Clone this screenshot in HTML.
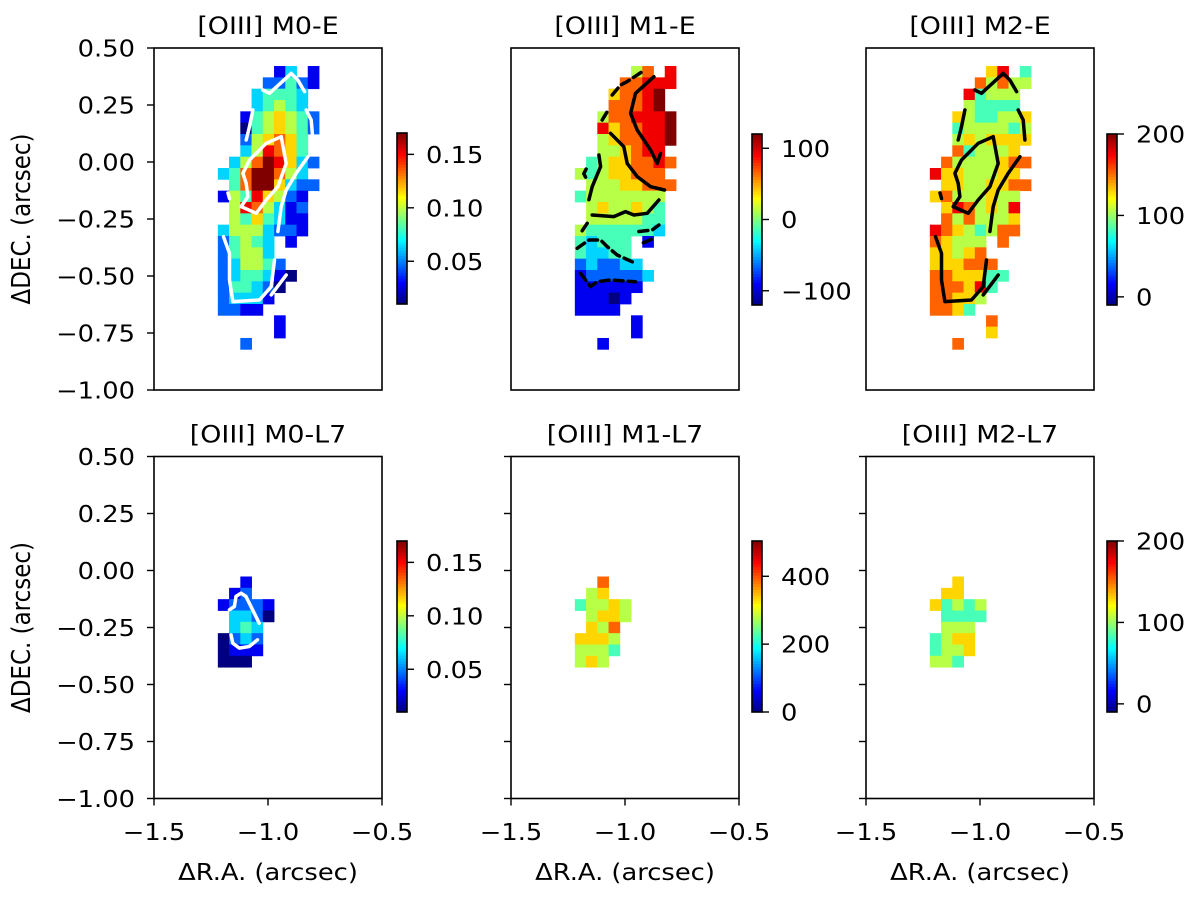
<!DOCTYPE html>
<html><head><meta charset="utf-8"><style>
html,body{margin:0;padding:0;background:#fff;}
svg text{font-family:"DejaVu Sans","Liberation Sans",sans-serif;fill:#000;}
</style></head><body>
<svg id="fig" width="1200" height="893" viewBox="0 0 1200 893" xmlns="http://www.w3.org/2000/svg"></svg>
<script>
// ---- data (levels 0-9 read from the colour map; '.' = no data) ----
const gridX0 = -1.220, gridDX = 0.0493, gridY0 = 0.421, gridDY = 0.0497;
const xTicks = [-1.5, -1.0, -0.5];
const xTickLabels = ["\u22121.5", "\u22121.0", "\u22120.5"];
const yTicks = [0.5, 0.25, 0.0, -0.25, -0.5, -0.75, -1.0];
const yTickLabels = ["0.50", "0.25", "0.00", "\u22120.25", "\u22120.50", "\u22120.75", "\u22121.00"];

const m0eLevels = [
".....13.1","....22421","...34443.","...34543.","..1456542","..0456542","..256764.","..358764.",
".35798632","34799753.",".47996322","15486521.",".5875312.",".5464311.","35553221.","24543.1..",
"24553....","235542...","2344310..","244320...","23331....","2211.....",".....1...",".....1...","..2......"];
const m1eLevels = [
".....57.8","....77888","...67789.","...77789.","..5778889","..8677889","..5677889","..556788.",
".45667787","54566777.",".55566777","45555555.",".5655654.",".5555544.","54444443.","43444.1..",
"43344....","232233...","1222223..","111111...","11101....","1111.....",".....1...",".....1...","..1......"];
const m2eLevels = [
".....68.4","....75755","...84555.","...54444.","..6544556","..4555545","..5656666","..745556.",
".75555677","86655566.",".66556677","67555655.",".6875658.",".7575556.","87654577.","76555.7..",
"66567....","666777...","7766644..","777684...","77665....","7764.....",".....7...",".....6...","..7......"];
const m0lLevels = ["..1..",".12..","12221",".3320",".343.","0232.","0111.","000.."];
const m1lLevels = ["..7..",".56..","45565",".5665",".657.","6665.","5554.","565.."];
const m2lLevels = ["..6..",".66..","64545",".4444",".555.","4566.","4556.","554.."];
const lowRowOffset = 9;

const cbM0 = [0.01, 0.17], cbM0Ticks = [0.05, 0.10, 0.15], cbM0Labels = ["0.05","0.10","0.15"];
const cbM1E = [-120, 120], cbM1ETicks = [-100, 0, 100], cbM1ELabels = ["\u2212100","0","100"];
const cbM2 = [-10, 200], cbM2Ticks = [0, 100, 200], cbM2Labels = ["0","100","200"];
const cbM1L = [0, 504], cbM1LTicks = [0, 200, 400], cbM1LLabels = ["0","200","400"];

// contours in grid (col,row) units
const fluxContours = [
 [[5.64,6.24],[6.08,8.59],[5.34,10.65],[4.3,11.82],[3.41,13.0],[2.08,12.41],[2.67,11.53],[2.52,10.35],[2.23,9.47],[2.82,8.29],[4.3,6.82],[5.64,6.24]],
 [[4.0,2.12],[4.6,2.41],[6.53,0.65],[7.12,1.24],[7.72,2.26]],
 [[3.12,3.88],[2.82,5.35],[2.52,6.53]],
 [[7.86,3.88],[8.31,4.76],[8.46,6.53]],
 [[8.01,8.0],[6.97,9.47],[6.08,10.94],[5.64,12.41],[5.34,14.6]],
 [[0.9,11.2],[1.04,11.7]],
 [[0.5,15.06],[1.04,16.53],[1.04,18.88],[1.34,20.79],[3.71,20.65],[4.75,19.47],[5.04,17.12]],
 [[4.75,20.2],[6.08,18.44]]];
const velSolid = [
 [[7.03,0.94],[5.4,2.41],[4.96,4.18],[5.55,5.65],[6.74,7.41],[7.33,8.59],[7.63,7.71]],
 [[3.17,5.94],[4.36,7.12],[4.66,8.59],[5.55,9.76],[6.74,10.65],[7.98,10.94]],
 [[2.14,7.85],[2.29,8.88],[1.54,10.65],[1.25,11.8]],
 [[1.54,13.15],[3.47,13.29],[4.51,12.85],[5.25,13.15],[6.44,13.0],[7.48,11.82]]];
const velDashed = [
 [[3.32,2.56],[4.07,1.68],[4.66,1.38],[5.99,0.5]],
 [[2.43,4.76],[2.88,4.03],[3.03,3.88]],
 [[1.0,9.1],[0.8,9.5],[1.0,9.9]],
 [[1.1,13.88],[0.5,14.76]],
 [[5.7,14.6],[6.88,14.47],[7.48,14.03]],
 [[0.21,16.09],[1.25,15.35],[2.29,15.35],[2.88,15.94],[3.77,16.68],[5.4,17.41]],
 [[0.5,18.29],[1.39,19.47],[1.99,19.03],[3.17,18.88],[5.4,19.03]],
 [[6.1,15.6],[6.8,15.3]]];
const l7Contours = [
 [[1.03,11.94],[1.47,11.65],[1.62,10.76],[2.06,10.47],[2.5,10.76],[3.09,11.94],[3.68,13.12]],
 [[1.18,14.15],[1.32,14.88],[1.91,15.32],[2.79,15.18],[3.53,14.59]]];

// ---- drawing ----
const NS = "http://www.w3.org/2000/svg";
const svg = document.getElementById("fig");
const FS = 23, SX = 1.12;
function mk(tag, attrs, parent){ const e=document.createElementNS(NS,tag); for(const k in attrs) e.setAttribute(k,attrs[k]); (parent||svg).appendChild(e); return e; }
function txt(x,y,str,size,anchor,parent){
  const t = mk("text",{x:0,y:0,"text-anchor":anchor,"font-size":size,transform:`translate(${x},${y}) scale(${SX},1)`},parent);
  t.textContent = str; return t;
}
function jet(t){ t=Math.max(0,Math.min(1,t)); const c=v=>Math.round(255*Math.max(0,Math.min(1,v)));
  return `rgb(${c(1.5-Math.abs(4*t-3))},${c(1.5-Math.abs(4*t-2))},${c(1.5-Math.abs(4*t-1))})`; }
const AW=228, SC=228;
function makeAxes(left, top){ return { sx:v=>left+(v+1.5)*SC, sy:v=>top+(0.5-v)*SC, left, top }; }

const panels = [
 {name:"m0-e", left:154, top:48, title:"[OIII] M0-E", lv:m0eLevels, off:0, cb:cbM0, cbt:cbM0Ticks, cbl:cbM0Labels, cbx:397, cby:133},
 {name:"m1-e", left:511, top:48, title:"[OIII] M1-E", lv:m1eLevels, off:0, cb:cbM1E, cbt:cbM1ETicks, cbl:cbM1ELabels, cbx:752, cby:134},
 {name:"m2-e", left:866, top:48, title:"[OIII] M2-E", lv:m2eLevels, off:0, cb:cbM2, cbt:cbM2Ticks, cbl:cbM2Labels, cbx:1107, cby:134},
 {name:"m0-l7", left:154, top:456.5, title:"[OIII] M0-L7", lv:m0lLevels, off:lowRowOffset, cb:cbM0, cbt:cbM0Ticks, cbl:cbM0Labels, cbx:397, cby:541},
 {name:"m1-l7", left:511, top:456.5, title:"[OIII] M1-L7", lv:m1lLevels, off:lowRowOffset, cb:cbM1L, cbt:cbM1LTicks, cbl:cbM1LLabels, cbx:752, cby:541},
 {name:"m2-l7", left:866, top:456.5, title:"[OIII] M2-L7", lv:m2lLevels, off:lowRowOffset, cb:cbM2, cbt:cbM2Ticks, cbl:cbM2Labels, cbx:1107, cby:541}];

panels.forEach((p,pi)=>{
  const ax = makeAxes(p.left,p.top);
  const g = mk("g",{});
  
  
  const [vmin,vmax]=p.cb;
  p.lv.forEach((row,r)=>{ [...row].forEach((ch,c)=>{
    if(ch==='.') return;
    const val = vmin + (+ch)/9*(vmax-vmin);
    const x0=ax.sx(gridX0+c*gridDX), x1=ax.sx(gridX0+(c+1)*gridDX);
    const y0=ax.sy(gridY0-(r+p.off)*gridDY), y1=ax.sy(gridY0-(r+p.off+1)*gridDY);
    const rc = mk("rect",{x:x0,y:y0,width:x1-x0+0.4,height:y1-y0+0.4,fill:jet((val-vmin)/(vmax-vmin))},g);
    
    
  });});
  let sets=[];
  if(pi===0) sets=fluxContours.map(c=>[c,"#fff",""]);
  if(pi===2) sets=fluxContours.map(c=>[c,"#000",""]);
  if(pi===1) sets=velSolid.map(c=>[c,"#000",""]).concat(velDashed.map(c=>[c,"#000","9,5"]));
  if(pi===3) sets=l7Contours.map(c=>[c,"#fff",""]);
  sets.forEach(([pts,col,dash])=>{
    const d = pts.map((q,i)=>(i?"L":"M")+ax.sx(gridX0+q[0]*gridDX).toFixed(1)+","+ax.sy(gridY0-q[1]*gridDY).toFixed(1)).join(" ");
    const pa = mk("path",{d,fill:"none",stroke:col,"stroke-width":3.5,"stroke-linejoin":"round","stroke-linecap":"round","stroke-dasharray":dash},g);
    
    
  });
  const fr = mk("rect",{x:p.left,y:p.top,width:AW,height:342,fill:"none",stroke:"#000","stroke-width":1.6},g);
  
  
  const t = txt(p.left+AW/2, p.top-14, p.title, 24, "middle", g);
  
  
  const col = pi%3, bottom = pi>=3;
  if(col===0 || bottom){
    yTicks.forEach((v,i)=>{
      mk("line",{x1:p.left-7,x2:p.left,y1:ax.sy(v),y2:ax.sy(v),stroke:"#000","stroke-width":1.4},g);
      if(col===0){ const tl=txt(p.left-19, ax.sy(v)+8.5, yTickLabels[i], FS, "end", g);
        
         }
    });
  }
  if(bottom){
    xTicks.forEach((v,i)=>{
      mk("line",{x1:ax.sx(v),x2:ax.sx(v),y1:p.top+342,y2:p.top+349,stroke:"#000","stroke-width":1.4},g);
      const tl=txt(ax.sx(v), 840, xTickLabels[i], FS, "middle", g);
      
      
    });
    const xl=txt(p.left+AW/2, 880, "\u0394R.A. (arcsec)", FS, "middle", g);
    
    
  }
  if(col===0){
    const cy=p.top+171;
    const yl=mk("text",{x:0,y:0,"text-anchor":"middle","font-size":FS,transform:`translate(30,${cy}) rotate(-90) scale(1,${SX})`},g);
    yl.textContent="\u0394DEC. (arcsec)";
    
    
  }
  const cb = mk("g",{},g);
  
  
  const H=171, W=10, N=60;
  for(let k=0;k<N;k++){
    mk("rect",{x:p.cbx,y:p.cby+H-(k+1)*H/N,width:W,height:H/N+0.5,fill:jet((k+0.5)/N)},cb);
  }
  mk("rect",{x:p.cbx,y:p.cby,width:W,height:H,fill:"none",stroke:"#000","stroke-width":1.6},cb);
  p.cbt.forEach((v,i)=>{
    const y=p.cby+H-(v-vmin)/(vmax-vmin)*H;
    mk("line",{x1:p.cbx+W,x2:p.cbx+W+7,y1:y,y2:y,stroke:"#000","stroke-width":1.4},cb);
    const tl=txt(p.cbx+W+19, y+8.5, p.cbl[i], FS, "start", cb);
    
    
  });
});
</script>
</body></html>
